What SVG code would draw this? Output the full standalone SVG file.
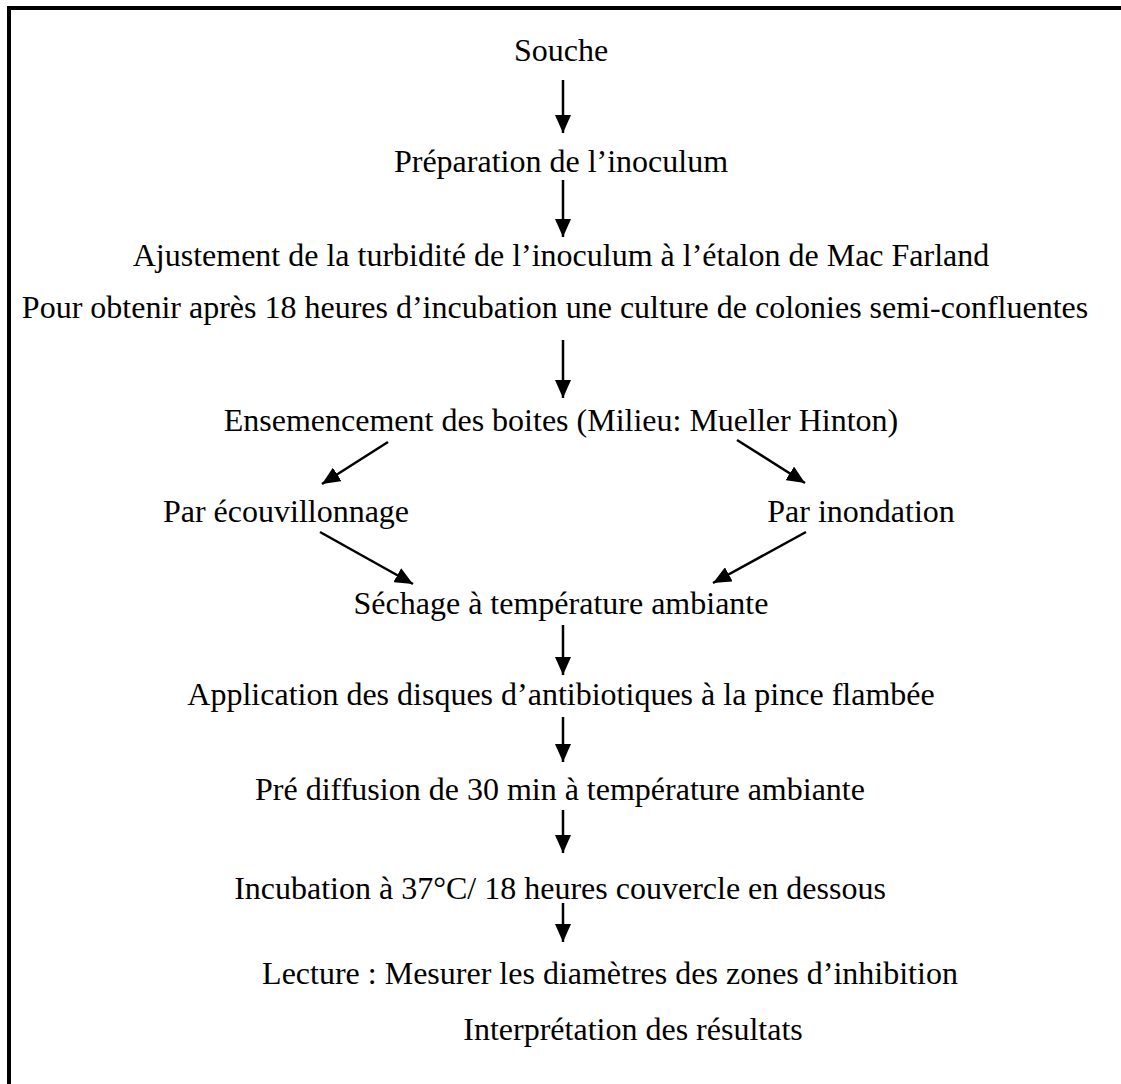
<svg xmlns="http://www.w3.org/2000/svg" width="1121" height="1084" viewBox="0 0 1121 1084">
<style>
text{font-family:"Liberation Serif","Times New Roman",serif;font-size:32px;fill:#000}
.c{text-anchor:middle}
.a{stroke:#000;stroke-width:2.5;fill:none;marker-end:url(#ah)}
</style>
<defs>
<marker id="ah" viewBox="0 0 18 16" refX="18" refY="8" markerWidth="18" markerHeight="16" markerUnits="userSpaceOnUse" orient="auto">
<path d="M0,0 L18,8 L0,16 z" fill="#000"/>
</marker>
</defs>
<rect width="1121" height="1084" fill="#fff"/>
<g id="frame">
<line x1="7" y1="8" x2="1121" y2="8" stroke="#000" stroke-width="4"/>
<line x1="9" y1="6" x2="9" y2="1084" stroke="#000" stroke-width="4"/>
</g>
<g id="n1"><text class="c" x="561" y="61">Souche</text></g>
<g id="n2"><text class="c" x="561" y="172">Préparation de l’inoculum</text></g>
<g id="n3"><text class="c" x="561" y="266">Ajustement de la turbidité de l’inoculum à l’étalon de Mac Farland</text>
<text class="c" x="555" y="318">Pour obtenir après 18 heures d’incubation une culture de colonies semi-confluentes</text></g>
<g id="n4"><text class="c" x="561" y="431">Ensemencement des boites (Milieu: Mueller Hinton)</text></g>
<g id="n5"><text class="c" x="286" y="522">Par écouvillonnage</text></g>
<g id="n6"><text class="c" x="861" y="522">Par inondation</text></g>
<g id="n7"><text class="c" x="561" y="614">Séchage à température ambiante</text></g>
<g id="n8"><text class="c" x="561" y="705">Application des disques d’antibiotiques à la pince flambée</text></g>
<g id="n9"><text class="c" x="560" y="800">Pré diffusion de 30 min à température ambiante</text></g>
<g id="n10"><text class="c" x="560" y="899">Incubation à 37°C/ 18 heures couvercle en dessous</text></g>
<g id="n11"><text class="c" x="610" y="984">Lecture : Mesurer les diamètres des zones d’inhibition</text></g>
<g id="n12"><text class="c" x="633" y="1040">Interprétation des résultats</text></g>
<g id="connectors">
<line class="a" x1="563" y1="80" x2="563" y2="133"/>
<line class="a" x1="563" y1="180" x2="563" y2="237"/>
<line class="a" x1="563" y1="340" x2="563" y2="398"/>
<line class="a" x1="388" y1="442" x2="322" y2="484"/>
<line class="a" x1="737" y1="440" x2="805" y2="483"/>
<line class="a" x1="320" y1="532" x2="413" y2="584"/>
<line class="a" x1="806" y1="532" x2="713" y2="583"/>
<line class="a" x1="563" y1="625" x2="563" y2="675"/>
<line class="a" x1="563" y1="717" x2="563" y2="762"/>
<line class="a" x1="563" y1="810" x2="563" y2="853"/>
<line class="a" x1="563" y1="903" x2="563" y2="942"/>
</g>
</svg>
